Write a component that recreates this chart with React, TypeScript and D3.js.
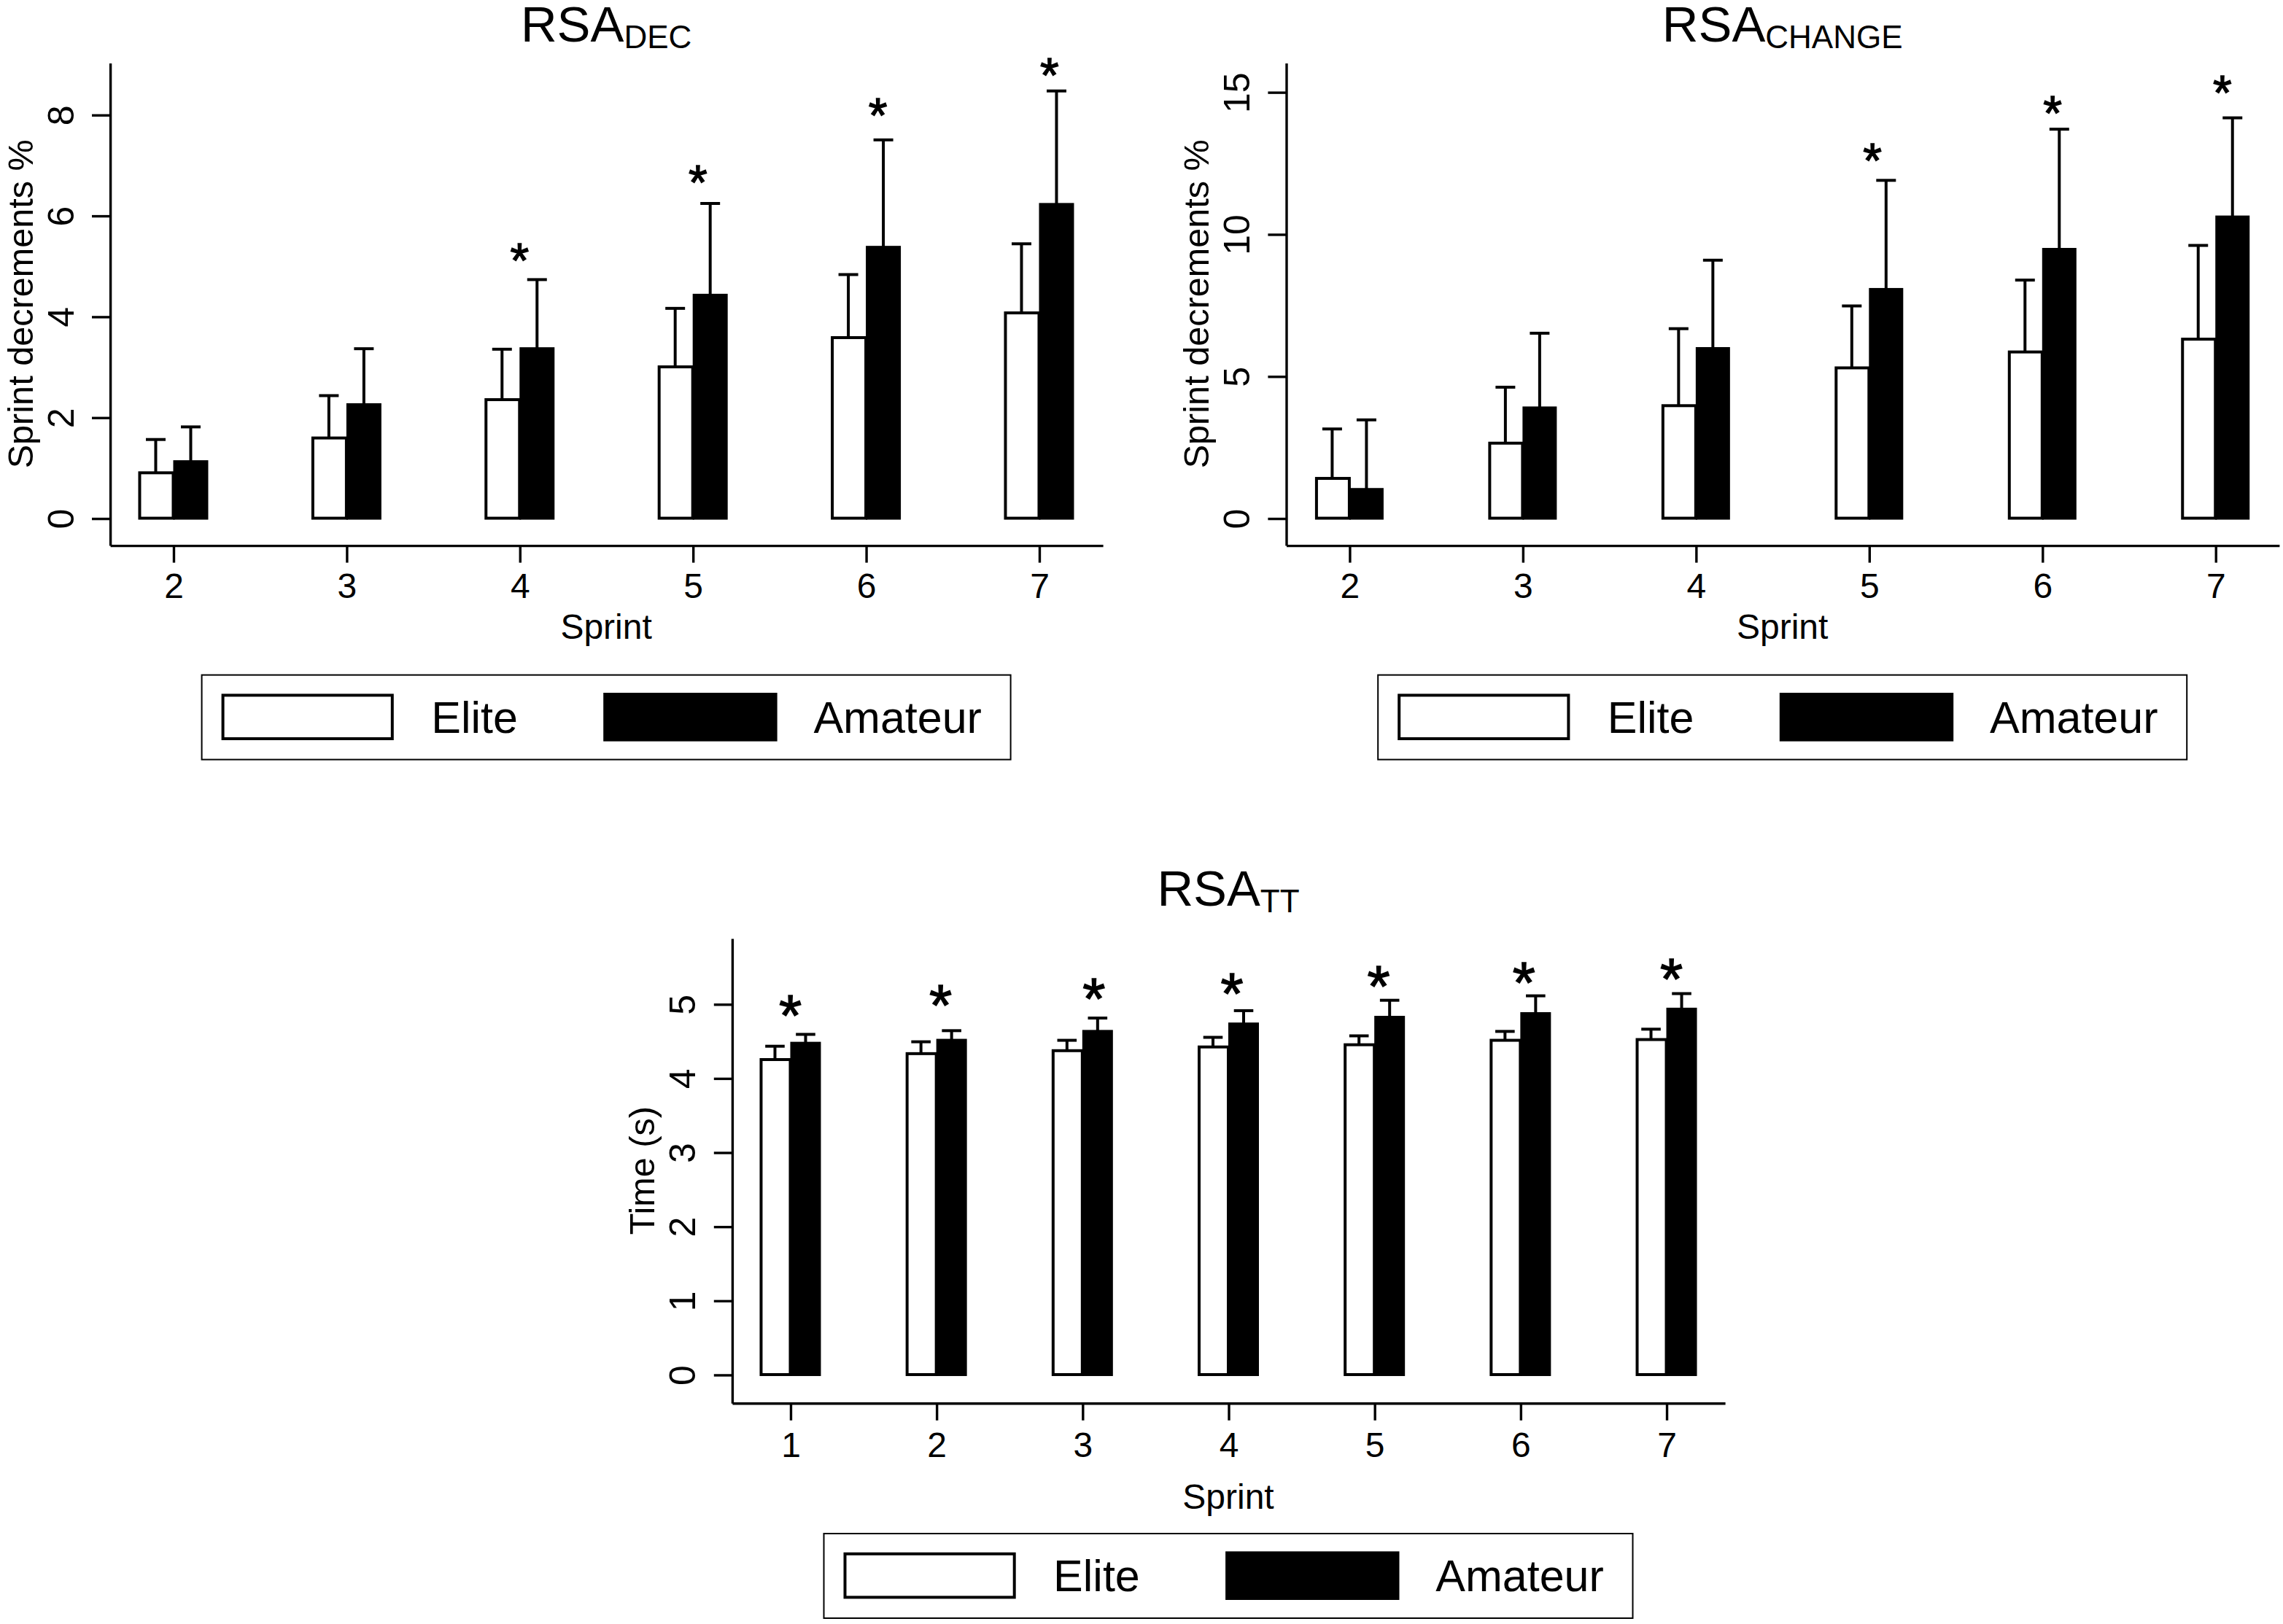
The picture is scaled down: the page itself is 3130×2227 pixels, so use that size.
import { useEffect, useRef } from 'react';
import * as d3 from 'd3';

// RSA_DEC: sprint decrement %, bar tops and upper end of the SD whisker
const decSprints = [2, 3, 4, 5, 6, 7];
const decElite = [0.9, 1.59, 2.35, 3.0, 3.58, 4.07];
const decEliteUpper = [1.56, 2.43, 3.35, 4.16, 4.83, 5.44];
const decAmateur = [1.12, 2.25, 3.36, 4.42, 5.37, 6.22];
const decAmateurUpper = [1.81, 3.36, 4.73, 6.24, 7.5, 8.47];
const decStarX = [4, 5.03, 6.07, 7.06];
const decStarY = [5.32, 6.87, 8.2, 8.99];
const decTicks = [0, 2, 4, 6, 8];

// RSA_CHANGE
const changeSprints = [2, 3, 4, 5, 6, 7];
const changeElite = [1.4, 2.64, 3.96, 5.29, 5.85, 6.3];
const changeEliteUpper = [3.14, 4.61, 6.67, 7.47, 8.38, 9.6];
const changeAmateur = [1.01, 3.88, 5.97, 8.05, 9.46, 10.6];
const changeAmateurUpper = [3.46, 6.51, 9.08, 11.89, 13.69, 14.09];
const changeStarX = [5.02, 6.06, 7.04];
const changeStarY = [12.97, 14.63, 15.35];
const changeTicks = [0, 5, 10, 15];

// RSA_TT: sprint time (s)
const ttSprints = [1, 2, 3, 4, 5, 6, 7];
const ttElite = [4.25, 4.33, 4.37, 4.42, 4.45, 4.51, 4.52];
const ttEliteUpper = [4.43, 4.49, 4.51, 4.55, 4.57, 4.63, 4.66];
const ttAmateur = [4.47, 4.51, 4.63, 4.73, 4.82, 4.87, 4.93];
const ttAmateurUpper = [4.59, 4.64, 4.81, 4.91, 5.05, 5.11, 5.14];
const ttStarX = [1.0, 2.03, 3.08, 4.025, 5.03, 6.025, 7.035];
const ttStarY = [5.02, 5.16, 5.25, 5.32, 5.41, 5.46, 5.51];
const ttTicks = [0, 1, 2, 3, 4, 5];

const groups = ['Elite', 'Amateur'];

const FONT = "'Liberation Sans', Arial, Helvetica, sans-serif";

interface PanelSpec {
  title: string;
  sub: string;
  yLabel: string;
  sprints: number[];
  elite: number[];
  eliteUpper: number[];
  amateur: number[];
  amateurUpper: number[];
  starX: number[];
  starY: number[];
  yTicks: number[];
  xDomain: [number, number];
  yDomain: [number, number];
  left: number;
  right: number;
  top: number;
  bottom: number;
  barW: number;
  capW: number;
  starSize: number;
  titleY: number;
  tickLabelGap: number;
  xTitleGap: number;
  legendTop: number;
}

const panels: PanelSpec[] = [
  {
    title: 'RSA', sub: 'DEC', yLabel: 'Sprint decrements %',
    sprints: decSprints, elite: decElite, eliteUpper: decEliteUpper,
    amateur: decAmateur, amateurUpper: decAmateurUpper,
    starX: decStarX, starY: decStarY, yTicks: decTicks,
    xDomain: [1.634, 7.367], yDomain: [-0.535, 9.03],
    left: 75.3, right: 755.8, top: 43, bottom: 373.8,
    barW: 24, capW: 13.5, starSize: 33, titleY: 28.5,
    tickLabelGap: 36, xTitleGap: 64, legendTop: 462.8,
  },
  {
    title: 'RSA', sub: 'CHANGE', yLabel: 'Sprint decrements %',
    sprints: changeSprints, elite: changeElite, eliteUpper: changeEliteUpper,
    amateur: changeAmateur, amateurUpper: changeAmateurUpper,
    starX: changeStarX, starY: changeStarY, yTicks: changeTicks,
    xDomain: [1.634, 7.367], yDomain: [-0.95, 16.03],
    left: 881.5, right: 1562.2, top: 43, bottom: 373.8,
    barW: 23.5, capW: 13.5, starSize: 33, titleY: 28.5,
    tickLabelGap: 36, xTitleGap: 64, legendTop: 462.8,
  },
  {
    title: 'RSA', sub: 'TT', yLabel: 'Time (s)',
    sprints: ttSprints, elite: ttElite, eliteUpper: ttEliteUpper,
    amateur: ttAmateur, amateurUpper: ttAmateurUpper,
    starX: ttStarX, starY: ttStarY, yTicks: ttTicks,
    xDomain: [0.6, 7.4], yDomain: [-0.382, 5.887],
    left: 501.7, right: 1182.3, top: 643.3, bottom: 961.9,
    barW: 21, capW: 13.3, starSize: 40, titleY: 620.8,
    tickLabelGap: 36.9, xTitleGap: 72.4, legendTop: 1051.5,
  },
];

const drawPanel = (svg: d3.Selection<SVGSVGElement, unknown, null, undefined>, p: PanelSpec) => {
  const x = d3.scaleLinear().domain(p.xDomain).range([p.left, p.right]);
  const y = d3.scaleLinear().domain(p.yDomain).range([p.bottom, p.top]);
  const cx = (p.left + p.right) / 2;

  const g = svg.append('g').attr('font-family', FONT).attr('fill', '#000');

  // title with subscript
  const t = g
    .append('text')
    .attr('x', cx)
    .attr('y', p.titleY)
    .attr('text-anchor', 'middle')
    .attr('font-size', 34.4)
    .text(p.title);
  t.append('tspan').attr('font-size', 22).attr('dy', 4.5).text(p.sub);

  const rows = p.sprints.map((s, i) => ({
    s,
    e: p.elite[i],
    eu: p.eliteUpper[i],
    a: p.amateur[i],
    au: p.amateurUpper[i],
  }));

  g
    .selectAll('rect.elite')
    .data(rows)
    .join('rect')
    .attr('class', 'elite')
    .attr('x', (d) => x(d.s) - p.barW + 1)
    .attr('width', p.barW - 1)
    .attr('y', (d) => y(d.e))
    .attr('height', (d) => y(0) - y(d.e))
    .attr('fill', '#fff')
    .attr('stroke', '#000')
    .attr('stroke-width', 2);

  g
    .selectAll('rect.amateur')
    .data(rows)
    .join('rect')
    .attr('class', 'amateur')
    .attr('x', (d) => x(d.s))
    .attr('width', p.barW)
    .attr('y', (d) => y(d.a) - 1)
    .attr('height', (d) => y(0) - y(d.a) + 2)
    .attr('fill', '#000');

  // SD whiskers
  const whiskers = rows.flatMap((d) => [
    { cx: x(d.s) - p.barW / 2, lo: d.e, hi: d.eu },
    { cx: x(d.s) + p.barW / 2, lo: d.a, hi: d.au },
  ]);
  const wg = g.append('g').attr('stroke', '#000').attr('stroke-width', 2);
  wg
    .selectAll('line.v')
    .data(whiskers)
    .join('line')
    .attr('class', 'v')
    .attr('x1', (d) => d.cx)
    .attr('x2', (d) => d.cx)
    .attr('y1', (d) => y(d.lo))
    .attr('y2', (d) => y(d.hi));
  wg
    .selectAll('line.cap')
    .data(whiskers)
    .join('line')
    .attr('class', 'cap')
    .attr('x1', (d) => d.cx - p.capW / 2)
    .attr('x2', (d) => d.cx + p.capW / 2)
    .attr('y1', (d) => y(d.hi))
    .attr('y2', (d) => y(d.hi));

  // axes
  const ya = g
    .append('g')
    .attr('transform', `translate(${p.left},0)`)
    .call(d3.axisLeft(y).tickValues(p.yTicks).tickSize(12.3).tickSizeOuter(0).tickFormat(d3.format('d')));
  ya.attr('font-family', FONT).attr('font-size', 25).attr('color', '#000');
  ya.selectAll('path, line').attr('stroke-width', 1.7);
  ya
    .selectAll('text')
    .attr('transform', 'rotate(-90)')
    .attr('x', 0)
    .attr('y', -25)
    .attr('dy', 0)
    .attr('text-anchor', 'middle');

  const xa = g
    .append('g')
    .attr('transform', `translate(0,${p.bottom})`)
    .call(d3.axisBottom(x).tickValues(p.sprints).tickSize(12).tickSizeOuter(0).tickFormat(d3.format('d')));
  xa.attr('font-family', FONT).attr('font-size', 24).attr('color', '#000');
  xa.selectAll('path, line').attr('stroke-width', 1.7);
  xa.selectAll('text').attr('y', p.tickLabelGap).attr('dy', 0);

  g
    .append('text')
    .attr('x', cx)
    .attr('y', p.bottom + p.xTitleGap)
    .attr('text-anchor', 'middle')
    .attr('font-size', 24)
    .text('Sprint');

  g
    .append('text')
    .attr('transform', `translate(${p.left - 53},${(p.top + p.bottom) / 2}) rotate(-90)`)
    .attr('text-anchor', 'middle')
    .attr('font-size', 24.3)
    .text(p.yLabel);

  // significance markers
  g
    .selectAll('text.star')
    .data(p.starX.map((sx, i) => ({ sx, sy: p.starY[i] })))
    .join('text')
    .attr('class', 'star')
    .attr('x', (d) => x(d.sx))
    .attr('y', (d) => y(d.sy) + 0.567 * p.starSize)
    .attr('text-anchor', 'middle')
    .attr('font-size', p.starSize)
    .attr('stroke', '#000')
    .attr('stroke-width', 0.7)
    .text('*');

  // legend
  const lw = 554.5;
  const lg = g.append('g').attr('transform', `translate(${cx - lw / 2},${p.legendTop})`);
  lg.append('rect').attr('width', lw).attr('height', 58).attr('fill', '#fff').attr('stroke', '#000').attr('stroke-width', 1);
  lg
    .append('rect')
    .attr('x', 14.5)
    .attr('y', 13.9)
    .attr('width', 116.1)
    .attr('height', 29.8)
    .attr('fill', '#fff')
    .attr('stroke', '#000')
    .attr('stroke-width', 2);
  lg.append('text').attr('x', 157.3).attr('y', 39.7).attr('font-size', 30.5).text(groups[0]);
  lg.append('rect').attr('x', 275.3).attr('y', 12.2).attr('width', 119.2).attr('height', 33.3).attr('fill', '#000');
  lg.append('text').attr('x', 419.4).attr('y', 39.7).attr('font-size', 30.5).text(groups[1]);
};

const App = () => {
  const ref = useRef<SVGSVGElement>(null);

  useEffect(() => {
    if (!ref.current) return;
    const svg = d3.select(ref.current);
    svg.selectAll('*').remove();
    svg.append('rect').attr('width', 1565).attr('height', 1113.5).attr('fill', '#fff');
    panels.forEach((p) => drawPanel(svg, p));
  }, []);

  return (
    <svg
      ref={ref}
      width={3130}
      height={2227}
      viewBox="0 0 1565 1113.5"
      style={{ position: 'absolute', left: 0, top: 0, display: 'block' }}
      role="img"
      aria-label="RSA sprint decrements and sprint times, elite vs amateur"
    />
  );
};

export default App;
